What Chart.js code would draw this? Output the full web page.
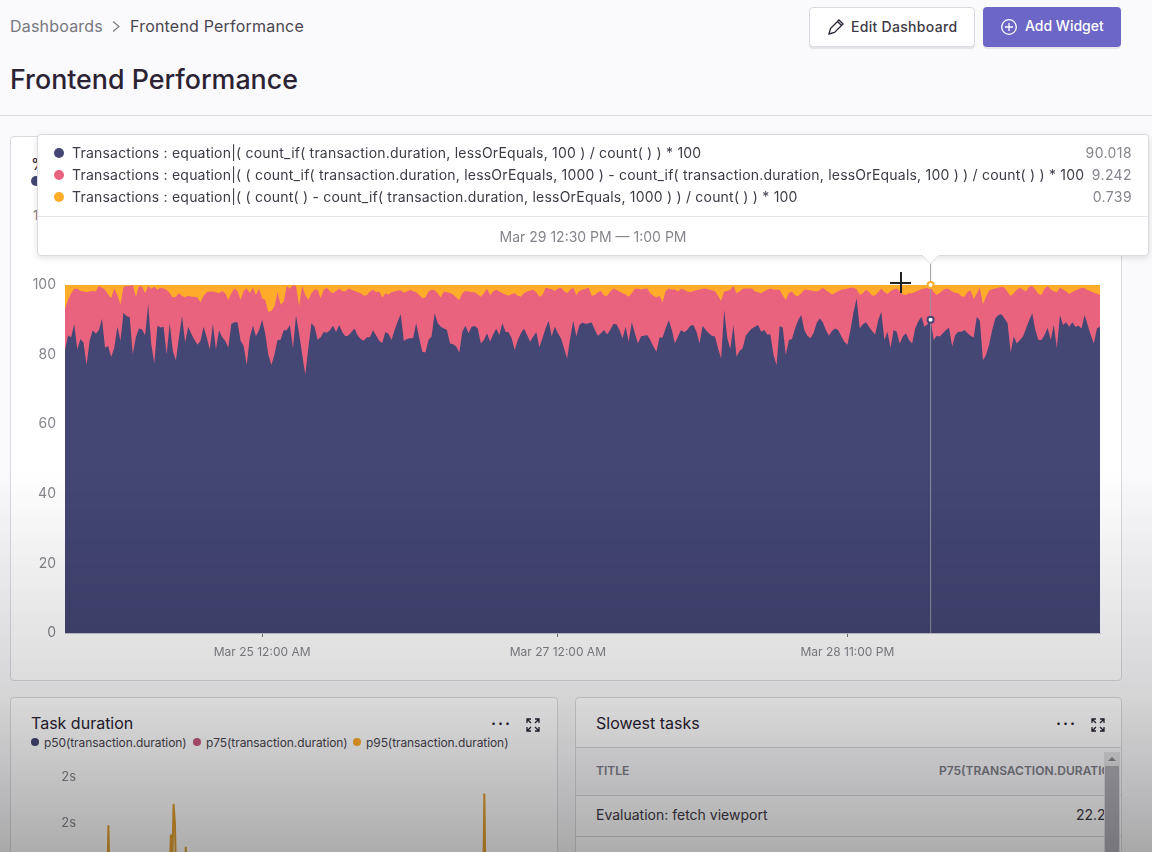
<!DOCTYPE html>
<html>
<head>
<meta charset="utf-8">
<script src="https://cdn.jsdelivr.net/npm/chart.js@4"></script>
<style>
  html, body { margin: 0; padding: 0; }
  body { width: 1152px; height: 852px; overflow: hidden; position: relative; background: #faf9fb; font-family: Inter, sans-serif; color: #2b2233; }
  .abs { position: absolute; white-space: nowrap; }
  .panel { position: absolute; background: #fff; border: 1px solid #dcdae0; border-radius: 4px; box-sizing: border-box; }
  .btn { position: absolute; top: 7px; height: 40px; border-radius: 4px; box-sizing: border-box; font-size: 14px; font-weight: 500; line-height: 38px; box-shadow: 0 2px 0 rgba(0,0,0,.08); }
  .dot { position: absolute; width: 10px; height: 10px; border-radius: 50%; }
  .row { position: absolute; left: 34px; font-size: 14px; line-height: 20px; letter-spacing: .21px; color: #3e3a46; white-space: nowrap; }
  .val { position: absolute; right: 16px; font-size: 14px; line-height: 20px; letter-spacing: .4px; color: #85858d; }
  canvas { position: absolute; }
</style>
</head>
<body>
<div class="abs" style="left:10px;top:16px;font-size:16px;letter-spacing:.2px;color:#77777f">Dashboards</div>
<svg class="abs" style="left:111px;top:20px" width="10" height="13"><path d="M2 1.5 L8 6.5 L2 11.5" fill="none" stroke="#77777f" stroke-width="1.2"/></svg>
<div class="abs" style="left:130px;top:16px;font-size:16px;letter-spacing:.2px;color:#4a4650">Frontend Performance</div>
<div class="abs" style="left:10px;top:63px;font-size:26.8px;font-weight:500;color:#2b2233">Frontend Performance</div>
<div class="btn" style="left:809px;width:166px;background:#fff;border:1px solid #dcdae0;padding-left:41px;letter-spacing:.3px;color:#3e3a46">Edit Dashboard
  <svg class="abs" style="left:17px;top:10px" width="18" height="18"><path d="M2 16 L3.5 10.5 L12 2 L16 6 L7.5 14.5 Z M10.5 3.5 L14.5 7.5" fill="none" stroke="#2b2233" stroke-width="1.3"/></svg>
</div>
<div class="btn" style="left:983px;width:138px;background:#6c66c6;padding-left:42px;color:#fff">Add Widget
  <svg class="abs" style="left:17px;top:11px" width="18" height="18"><circle cx="9" cy="9" r="7.3" fill="none" stroke="#fff" stroke-width="1.3"/><path d="M9 5 V13 M5 9 H13" stroke="#fff" stroke-width="1.3"/></svg>
</div>
<div class="abs" style="left:0;top:115px;width:1152px;height:1px;background:#dcdae0"></div>

<div class="panel" style="left:10px;top:136px;width:1112px;height:545px"></div>
<div class="abs" style="left:31px;top:154px;font-size:16px">%</div>
<div class="dot" style="left:31px;top:176px;background:#444674"></div>
<div class="abs" style="left:33px;top:207px;font-size:13px;color:#85858d">1</div>
<canvas id="main" style="left:10px;top:136px;width:1112px;height:544px"></canvas>

<div class="panel" style="left:10px;top:697px;width:548px;height:200px"></div>
<div class="abs" style="left:31px;top:713px;font-size:16px">Task duration</div>
<div class="dot" style="left:31px;top:738px;width:8px;height:8px;background:#444674"></div>
<div class="abs" style="left:44px;top:735px;font-size:12px;letter-spacing:-.08px;color:#4a4650">p50(transaction.duration)</div>
<div class="dot" style="left:193px;top:738px;width:8px;height:8px;background:#c85a80"></div>
<div class="abs" style="left:206px;top:735px;font-size:12px;letter-spacing:-.08px;color:#4a4650">p75(transaction.duration)</div>
<div class="dot" style="left:353px;top:738px;width:8px;height:8px;background:#ffac2a"></div>
<div class="abs" style="left:366px;top:735px;font-size:12px;letter-spacing:-.08px;color:#4a4650">p95(transaction.duration)</div>
<div class="abs" style="left:491px;top:714px;font-size:15px;font-weight:700;letter-spacing:2px">···</div>
<svg class="abs" style="left:526px;top:718px" width="14" height="14"><path d="M1 5 V1 H5 M9 1 H13 V5 M13 9 V13 H9 M5 13 H1 V9 M1 1 L5 5 M13 1 L9 5 M13 13 L9 9 M1 13 L5 9" fill="none" stroke="#2b2233" stroke-width="1.3"/></svg>
<canvas id="task" style="left:10px;top:720px;width:548px;height:298px"></canvas>

<div class="panel" style="left:575px;top:697px;width:547px;height:200px"></div>
<div class="abs" style="left:596px;top:713px;font-size:16px">Slowest tasks</div>
<div class="abs" style="left:1056px;top:714px;font-size:15px;font-weight:700;letter-spacing:2px">···</div>
<svg class="abs" style="left:1091px;top:718px" width="14" height="14"><path d="M1 5 V1 H5 M9 1 H13 V5 M13 9 V13 H9 M5 13 H1 V9 M1 1 L5 5 M13 1 L9 5 M13 13 L9 9 M1 13 L5 9" fill="none" stroke="#2b2233" stroke-width="1.3"/></svg>
<div class="abs" style="left:576px;top:747px;width:545px;height:47px;background:#faf9fb;border-top:1px solid #dcdae0;border-bottom:1px solid #dcdae0"></div>
<div class="abs" style="left:596px;top:763px;font-size:12px;font-weight:600;color:#80808a">TITLE</div>
<div class="abs" style="left:900px;top:763px;width:204px;overflow:hidden;font-size:12px;font-weight:600;color:#80808a;text-align:left;padding-left:39px;box-sizing:border-box">P75(TRANSACTION.DURATION)</div>
<div class="abs" style="left:596px;top:806px;font-size:14px;color:#3e3a46">Evaluation: fetch viewport</div>
<div class="abs" style="left:1040px;top:806px;width:64px;overflow:hidden;font-size:14px;color:#3e3a46;text-align:left;padding-left:36px;box-sizing:border-box">22.2 ms</div>
<div class="abs" style="left:576px;top:836px;width:545px;height:1px;background:#dcdae0"></div>
<div class="abs" style="left:1104px;top:752px;width:16px;height:100px;background:#e4e4e6"></div>
<div class="abs" style="left:1105px;top:766px;width:14px;height:90px;background:#b0b0b6"></div>
<svg class="abs" style="left:1107px;top:756px" width="10" height="6"><path d="M1 5 L5 1 L9 5 Z" fill="#8a8a90"/></svg>

<!-- tooltip -->
<div class="abs" style="left:37px;top:134px;width:1112px;height:122px;background:#fff;border:1px solid #dcdae0;border-radius:4px;box-sizing:border-box;box-shadow:0 2px 6px rgba(0,0,0,.12)">
  <div class="dot" style="left:16px;top:13px;background:#444674"></div>
  <div class="row" style="top:8px">Transactions : equation|( count_if( transaction.duration, lessOrEquals, 100 ) / count( ) ) * 100</div>
  <div class="val" style="top:8px">90.018</div>
  <div class="dot" style="left:16px;top:35px;background:#e9627e"></div>
  <div class="row" style="top:30px">Transactions : equation|( ( count_if( transaction.duration, lessOrEquals, 1000 ) - count_if( transaction.duration, lessOrEquals, 100 ) ) / count( ) ) * 100</div>
  <div class="val" style="top:30px">9.242</div>
  <div class="dot" style="left:16px;top:57px;background:#ffac2a"></div>
  <div class="row" style="top:52px">Transactions : equation|( ( count( ) - count_if( transaction.duration, lessOrEquals, 1000 ) ) / count( ) ) * 100</div>
  <div class="val" style="top:52px">0.739</div>
  <div class="abs" style="left:0;top:81px;width:1110px;height:1px;background:#e7e5ea"></div>
  <div class="abs" style="left:0;top:93px;width:1110px;text-align:center;font-size:14px;color:#85858d">Mar 29 12:30 PM — 1:00 PM</div>
</div>
<svg class="abs" style="left:922px;top:255px" width="17" height="10"><path d="M0 0 L8.5 9 L17 0" fill="#fff" stroke="#dcdae0"/><path d="M1 0 H16" stroke="#fff" stroke-width="2"/></svg>

<!-- crosshair cursor -->
<div class="abs" style="left:890px;top:282px;width:21px;height:2px;background:#222"></div>
<div class="abs" style="left:900px;top:272px;width:2px;height:21px;background:#222"></div>

<!-- page fade -->
<div class="abs" style="left:0;top:470px;width:1152px;height:382px;pointer-events:none;background:linear-gradient(to bottom, rgba(0,0,0,0) 0, rgba(0,0,0,.15) 60%, rgba(0,0,0,.32) 100%)"></div>

<script>
// 30 minute buckets, Mar 23 4:00 PM .. Mar 30 4:00 PM
const bucketCount = 337;
const categories = [];
for (let i = 0; i < bucketCount; i++) categories.push(i);

const tickIndexes = [64, 160, 254];
const tickLabels = ['Mar 25 12:00 AM', 'Mar 27 12:00 AM', 'Mar 28 11:00 PM'];
const hoverIndex = 281;

// top edge of each band
const navyTop = [
  81.3,85.5,85,88.8,81.5,84.5,83.5,77,84,87,86,87,90.3,82,82.5,79.3,82,88,84,92,
  91,90.8,80,85,87.5,87.3,85.5,94.5,83,77.5,88.3,87.8,88,80,89,81,78.3,85,91,83.5,
  88,86,84.3,82.8,84,88,85,81.5,88.8,81.5,87,85,84,82,88.8,89.3,89.3,84,82.5,77,
  85,88.3,85.3,87,90,86,80,77,80,84.2,84.3,87,87,88.5,82,91.2,86,80,74.2,82,
  89,88,84.3,85,86.5,86.3,87,88.3,86.5,88.5,86.5,85.3,85.5,86.5,87.5,85.5,84.5,84,85,85,
  87,85.5,84,83.3,86.5,86,
  84.2,87.1,89.5,91.6,83.9,84.5,84.7,84.7,89,84.7,80.8,80.6,84.2,85.2,91.9,89,88,87.5,87.1,83.2,
  83,82.3,80.6,86.6,88.3,86.1,88,88.2,87.5,83.2,84.2,86.1,83.7,85.8,87.4,85.6,89,86.6,86.4,84.7,
  81.3,84.2,86.1,87.5,85.6,83.7,85.2,86.4,82.1,84.7,87.5,89.7,85.2,88,86.1,84.7,81.8,78.9,84.7,89.7,
  85.2,88.5,89.2,88.8,89,89.2,87.1,85.4,86.1,87.1,85.8,87.1,88.8,88.7,87.1,84.7,88,83.7,89.3,86.1,
  83.2,85.3,85.4,85.6,84.2,82.3,80.8,84.9,84.9,87.5,89.9,87.1,83.2,85.2,87.1,86.4,87.1,88.3,88.5,86.6,
  83.2,88.3,87.1,86.1,85.4,85.2,81.8,78.9,92.8,84.7,81.6,88.5,79.4,81,
  81.8,85.4,86.6,87.5,88,88.5,86.6,87.1,85.8,85.8,79.9,77,88.2,87.7,79.9,84.2,84.5,87.5,89.9,91.4,
  87.1,85.4,84.7,86.1,89,90.4,89.3,87.1,85.4,86.8,87.5,87.1,85.3,83.7,82.8,87.1,92.3,96.2,87.5,88.7,
  89.3,88,86.8,85.8,89.9,92.3,84.2,86.6,82,87.1,86.6,83.2,85.2,86.1,84.2,83.2,87.5,89.5,90.9,88,
  88.7,90.018,84.2,85.4,85.2,86.1,87.1,87.7,82.3,85.6,86.6,86.6,87.1,86.1,85.4,84.9,90.9,89.7,78.4,79.9,
  82.8,87.1,90.4,91.4,91.6,90.4,89,80.7,85.2,83.2,84.2,85.2,87.5,89.9,91.9,87.1,84.2,84.2,85.6,87.7,
  84.2,88.5,81.8,91.4,88.5,89.3,88,89.3,88,88.3,87.5,91.4,88.5,85.6,83.2,87.5,88
];
const pinkTop = [
  93.3,95.7,97.6,98.9,98.9,98.3,98.1,97.9,98.1,98.3,98.1,99.7,99.2,98.6,97.3,96.2,99,97.1,94.4,99.5,
  99.7,99.7,100,96.6,99.7,99.5,97.6,99.7,98.9,99.5,98.6,99.2,99,98.6,97.6,96.4,96.6,97.6,96.9,96.4,
  96.9,96.6,96.6,96.4,95,96.9,97.9,98.1,98.1,97.9,97.6,98.3,97.6,95.7,97.6,99,98.3,95.7,98.3,99,
  97.6,99.2,97.1,99,96.2,95.7,92.3,92.5,93.8,97.9,94.3,95.2,99.7,98.9,100,99.7,94,99.7,97.1,95.7,
  97.6,98.6,98.6,96.2,98.6,99.2,98.1,97.6,98.3,98.9,98.3,98.1,98.9,98.6,98.3,97.9,97.6,96.9,97.1,98.1,
  98.6,97.9,98.1,96.4,97.6,97.3,
  97.9,98.1,98.4,98.5,97.8,98.1,98.6,98.2,97.9,97.1,96.2,96.4,98.1,98.6,98.5,97.6,96.4,98.1,97.9,97.7,
  97.3,96.4,95.7,97.6,98.3,98.1,97.9,97.9,97.3,96.6,97.6,98.9,97.1,98.1,98.6,98.1,97.6,97.3,96.9,97.4,
  97.6,96.9,96.6,97.6,98.1,98.4,98.6,97.9,96.6,97.1,99.2,99,98.8,98.3,98.9,99.2,98.3,97.6,98.6,99.2,
  97.1,98.3,98.6,98.9,99.2,96.9,97.1,97.9,98.3,96.9,96.9,98.1,98.9,98.6,98.1,97.6,97.3,96.6,97.6,98.9,
  98.9,98.7,98.9,99,97.6,96.9,96.4,96.9,95,98.3,99,98.6,98.7,98.1,98.9,98.6,98.1,97.9,98.3,98.5,
  98.7,98.9,99,98.7,98.5,98.3,96.9,95.4,98.1,98.3,98.6,99.7,97.6,98.1,
  98.9,99,99,99,98.1,97.9,97.6,98.2,98.6,98.9,98.7,98.6,98.6,97,95.7,97.7,98.1,97,96.8,97.6,
  98.6,98.6,98.4,98.3,98.1,98.5,99.2,98.5,97.9,97.3,97.7,98.3,98.6,98.8,99,99.2,99.3,98.7,97.2,97.6,
  98.6,98,97,97,98,98.9,98,97.4,98.2,98.8,99,98.2,97.3,97.1,97.6,97.6,98,98.4,98.8,99,
  99.2,99.26,98,97.1,97.8,98.5,99,98.8,98.1,97.8,97.6,96.8,96.6,98,98.5,95.9,97.5,99.2,94.5,96.6,
  98.4,98.8,99,99.2,99.5,99.2,98,96.8,97.6,98.6,99.2,98.6,98.2,99.5,99.7,98.6,97.4,97.1,98.9,99.7,
  98.7,98.2,97.9,99.2,98.7,98.2,97.4,98,98.4,98.8,99.2,99.1,98.5,98.2,97.8,97.5,97.1
];
const orangeTop = [
  100,100,100,100,100,100,100,100,100,100,100,100,100,100,100,100,100,100,100,100,100,100,100,100,100,100,100,100,100,100,
  100,100,100,100,100,100,100,100,100,100,100,100,100,100,100,100,100,100,100,100,100,100,100,100,100,100,100,100,100,100,
  100,100,100,100,100,100,100,100,100,100,100,100,100,100,100,100,100,100,100,100,100,100,100,100,100,100,100,100,100,100,
  100,100,100,100,100,100,100,100,100,100,100,100,100,100,100,100,100,100,100,100,100,100,100,100,100,100,100,100,100,100,
  100,100,100,100,100,100,100,100,100,100,100,100,100,100,100,100,100,100,100,100,100,100,100,100,100,100,100,100,100,100,
  100,100,100,100,100,100,100,100,100,100,100,100,100,100,100,100,100,100,100,100,100,100,100,100,100,100,100,100,100,100,
  100,100,100,100,100,100,100,100,100,100,100,100,100,100,100,100,100,100,100,100,100,100,100,100,100,100,100,100,100,100,
  100,100,100,100,100,100,100,100,100,100,100,100,100,100,100,100,100,100,100,100,100,100,100,100,100,100,100,100,100,100,
  100,100,100,100,100,100,100,100,100,100,100,100,100,100,100,100,100,100,100,100,100,100,100,100,100,100,100,100,100,100,
  100,100,100,100,100,100,100,100,100,100,100,100,100,100,100,100,100,100,100,100,100,100,100,100,100,100,100,100,100,100,
  100,100,100,100,100,100,100,100,100,100,100,100,100,100,100,100,100,100,100,100,100,100,100,100,100,100,100,100,100,100,
  100,100,100,100,100,100,100
];

// lower widget, only the spikes of p95 reach into the visible part
const taskIndex = [0,17,18,19,63,64,65,66,67,68,74,75,76,294,295,296,336];
const taskP95 = [1.1,1.2,1.98,1.2,1.3,1.88,1.5,2.21,2.0,1.3,1.2,1.75,1.2,1.2,2.32,1.2,1.1];
const taskTicks = [2, 2.5];

const tickColor = '#85858d';

// hover line and the two dots of the tooltip
const hoverMarks = {
  id: 'hoverMarks',
  afterDatasetsDraw(chart) {
    const { ctx, scales: { x, y } } = chart;
    const px = x.getPixelForValue(hoverIndex);
    ctx.save();
    ctx.strokeStyle = 'rgba(150,150,165,.9)';
    ctx.lineWidth = 1;
    ctx.beginPath();
    ctx.moveTo(px, 120);
    ctx.lineTo(px, y.bottom);
    ctx.stroke();
    [[navyTop, '#444674'], [orangeTop, '#ffac2a']].forEach(([series, color]) => {
      ctx.beginPath();
      ctx.arc(px, y.getPixelForValue(series[hoverIndex]), 3, 0, Math.PI * 2);
      ctx.fillStyle = '#fff';
      ctx.fill();
      ctx.strokeStyle = color;
      ctx.lineWidth = 2;
      ctx.stroke();
    });
    ctx.restore();
  }
};

const area = (label, data, color) => ({
  label, data,
  backgroundColor: color,
  borderWidth: 0,
  pointRadius: 0,
  tension: 0,
  fill: 'origin'
});

new Chart(document.getElementById('main'), {
  type: 'line',
  data: {
    labels: categories,
    datasets: [
      area('count_if 100', navyTop, '#444674'),
      area('count_if 1000', pinkTop, '#e9627e'),
      area('over 1000', orangeTop, '#ffac2a')
    ]
  },
  plugins: [hoverMarks],
  options: {
    animation: false,
    responsive: false,
    layout: { padding: { top: 149, right: 22, left: 0, bottom: 0 } },
    plugins: { legend: { display: false }, tooltip: { enabled: false } },
    scales: {
      x: {
        offset: false,
        border: { color: '#c9c6ce' },
        grid: { drawOnChartArea: false, drawTicks: true, tickLength: 4, color: '#77777f' },
        afterBuildTicks(scale) { scale.ticks = tickIndexes.map(value => ({ value })); },
        afterFit(scale) { scale.height = 47; },
        ticks: {
          autoSkip: false, maxRotation: 0, color: tickColor, font: { family: 'Inter, sans-serif', size: 12 }, padding: 8,
          callback: (value, i) => tickLabels[i]
        }
      },
      y: {
        min: 0, max: 100,
        border: { display: false },
        grid: { display: false },
        afterFit(scale) { scale.width = 55; },
        ticks: { stepSize: 20, color: tickColor, font: { family: 'Inter, sans-serif', size: 14 }, padding: 1 }
      }
    }
  }
});

new Chart(document.getElementById('task'), {
  type: 'scatter',
  data: {
    datasets: [{
      label: 'p95(transaction.duration)',
      data: taskIndex.map((x, i) => ({ x, y: taskP95[i] })),
      showLine: true,
      borderColor: '#e3a030',
      borderWidth: 2,
      pointRadius: 0,
      tension: 0
    }]
  },
  options: {
    animation: false,
    responsive: false,
    layout: { padding: { top: 10, right: 18, left: 0, bottom: 0 } },
    plugins: { legend: { display: false }, tooltip: { enabled: false } },
    scales: {
      x: { display: false, min: 0, max: 336 },
      y: {
        min: 0, max: 3,
        border: { display: false },
        grid: { display: false },
        afterBuildTicks(scale) { scale.ticks = taskTicks.map(value => ({ value })); },
        afterFit(scale) { scale.width = 74; },
        ticks: { color: tickColor, font: { family: 'Inter, sans-serif', size: 13 }, padding: 0, callback: () => '2s' }
      }
    }
  }
});
</script>
</body>
</html>
